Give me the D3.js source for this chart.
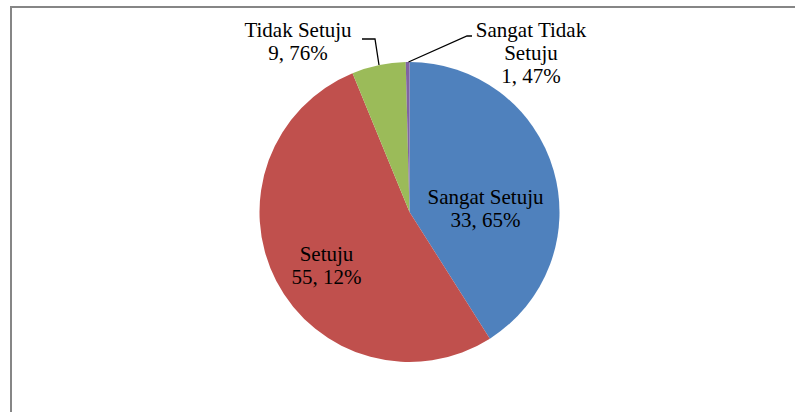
<!DOCTYPE html>
<html>
<head>
<meta charset="utf-8">
<script src="https://cdn.jsdelivr.net/npm/d3@7.9.0/dist/d3.min.js"></script>
<style>
  body { margin: 0; background: #fff; }
  svg { display: block; }
</style>
</head>
<body>
<svg width="795" height="412"></svg>
<script>
// data
const categories = ['Sangat Setuju', 'Setuju', 'Tidak Setuju', 'Sangat Tidak Setuju'];
const shares = [41.0, 52.8, 5.8, 0.4];           // slice sizes as drawn
const pctLabels = ['33, 65%', '55, 12%', '9, 76%', '1, 47%'];
const colors = ['#4F81BD', '#C0504D', '#9BBB59', '#8064A2'];

// label layout: text lines, center x, first baseline
const labelLines = [
  ['Sangat Setuju', pctLabels[0]],
  ['Setuju', pctLabels[1]],
  ['Tidak Setuju', pctLabels[2]],
  ['Sangat Tidak', 'Setuju', pctLabels[3]]
];
const labelPos = [[485.5, 204], [326.5, 261], [298, 37], [531, 37]];

const svg = d3.select('svg');

// chart area frame (only top and left edges are visible in the crop)
svg.append('path')
  .attr('d', 'M11,412V7H795')
  .attr('fill', 'none')
  .attr('stroke', '#868686')
  .attr('stroke-width', 2);

const cx = 409.5, cy = 212, r = 150;

const pie = d3.pie().sort(null).value(d => d);
const arcData = pie(shares);
const arc = d3.arc().innerRadius(0).outerRadius(r);

const g = svg.append('g').attr('transform', `translate(${cx},${cy})`);
g.selectAll('path')
  .data(arcData)
  .join('path')
  .attr('d', arc)
  .attr('fill', (_, i) => colors[i]);

// leader lines for the outside labels
const leaders = [
  [[362, 39], [375, 39], [379, 65]],
  [[472, 36], [467, 36], [408.5, 62]]
];
svg.selectAll('.leader')
  .data(leaders)
  .join('polyline')
  .attr('class', 'leader')
  .attr('points', d => d.map(p => p.join(',')).join(' '))
  .attr('fill', 'none')
  .attr('stroke', '#000')
  .attr('stroke-width', 1.3);

// labels
const lbl = svg.selectAll('.lbl')
  .data(labelLines)
  .join('text')
  .attr('class', 'lbl')
  .attr('x', (_, i) => labelPos[i][0])
  .attr('y', (_, i) => labelPos[i][1])
  .attr('text-anchor', 'middle')
  .style('font-family', "'Liberation Serif'")
  .style('font-size', '21px')
  .attr('fill', '#000');

lbl.each(function (lines, i) {
  d3.select(this).selectAll('tspan')
    .data(lines)
    .join('tspan')
    .attr('x', labelPos[i][0])
    .attr('dy', (_, j) => (j === 0 ? 0 : 23))
    .text(d => d);
});
</script>
</body>
</html>
